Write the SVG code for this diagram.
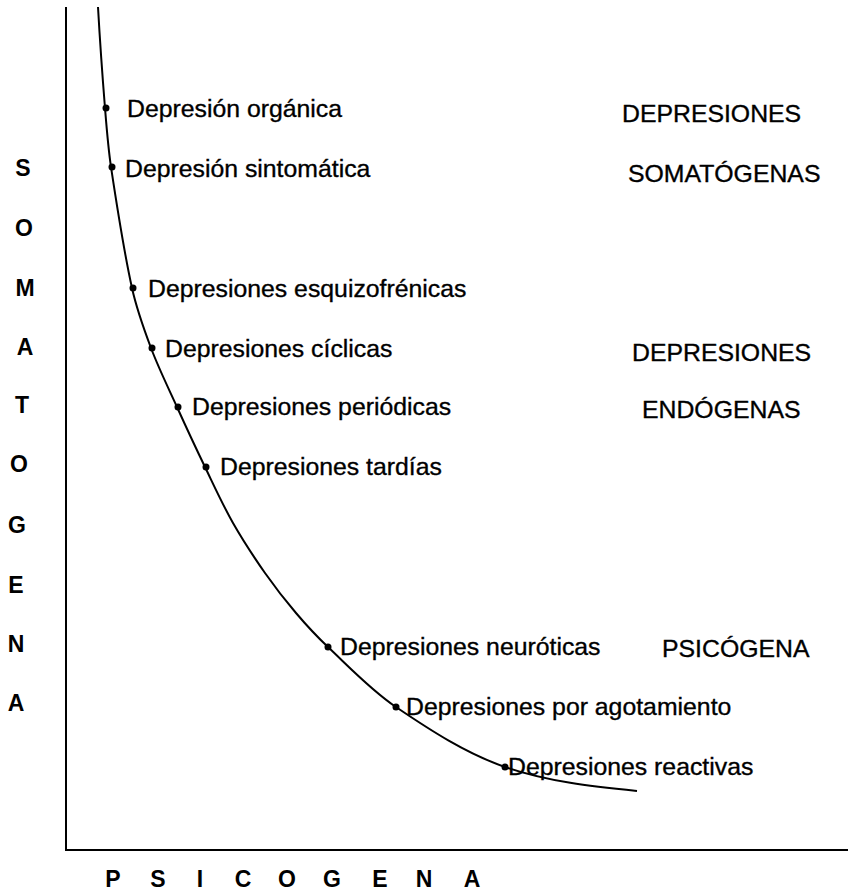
<svg xmlns="http://www.w3.org/2000/svg" width="848" height="895" viewBox="0 0 848 895">
<style>
.lbl{font-family:"Liberation Sans",Arial,sans-serif;font-size:24.8px;fill:#000;stroke:#000;stroke-width:0.35}
.ax{font-family:"Liberation Sans",Arial,sans-serif;font-size:23px;font-weight:bold;fill:#000;text-anchor:middle}
.line{fill:none;stroke:#000;stroke-width:2}
.dot{fill:#000}
</style>
<rect width="848" height="895" fill="#fff"/>
<g id="axes">
<line class="line" x1="66" y1="7" x2="66" y2="850"/>
<line class="line" x1="65" y1="850" x2="848" y2="850"/>
</g>
<g id="connectors">
<path class="line" d="M98,7 C99.9,40.6 102.3,74.4 105,108 C106.6,127.7 108.1,147.4 111,167 C117.1,207.4 123.2,248.1 132,288 C136.5,308.5 143.6,328.3 151,348 C158.6,368.1 168.1,387.4 177,407 C186.1,427.1 195.4,447.1 205,467 C214.1,485.8 222.7,504.8 233,523 C242.8,540.2 253.7,556.8 265,573 C274.7,586.8 285,600.1 296,613 C306.1,624.9 316.6,636.3 328,647 C350,667.7 371,690.1 396,707 C430.4,730.3 465.8,753.3 505,767 C547.2,781.7 592.7,786.5 637,791"/>
</g>
<g id="n-organica"><circle class="dot" cx="106" cy="108" r="3.5"/><text class="lbl" x="127" y="117">Depresión orgánica</text></g>
<g id="n-sintomatica"><circle class="dot" cx="112" cy="167" r="3.5"/><text class="lbl" x="125" y="177">Depresión sintomática</text></g>
<g id="n-esquizofrenicas"><circle class="dot" cx="133" cy="288" r="3.5"/><text class="lbl" x="148" y="297">Depresiones esquizofrénicas</text></g>
<g id="n-ciclicas"><circle class="dot" cx="152" cy="348" r="3.5"/><text class="lbl" x="165" y="357">Depresiones cíclicas</text></g>
<g id="n-periodicas"><circle class="dot" cx="178" cy="407" r="3.5"/><text class="lbl" x="192" y="415">Depresiones periódicas</text></g>
<g id="n-tardias"><circle class="dot" cx="206" cy="467" r="3.5"/><text class="lbl" x="220" y="475">Depresiones tardías</text></g>
<g id="n-neuroticas"><circle class="dot" cx="328" cy="647" r="3.5"/><text class="lbl" x="340" y="655">Depresiones neuróticas</text></g>
<g id="n-agotamiento"><circle class="dot" cx="396" cy="707" r="3.5"/><text class="lbl" x="406" y="715">Depresiones por agotamiento</text></g>
<g id="n-reactivas"><circle class="dot" cx="505" cy="767" r="3.5"/><text class="lbl" x="508" y="775">Depresiones reactivas</text></g>
<g id="g-somatogenas"><text class="lbl" x="622" y="122">DEPRESIONES</text><text class="lbl" x="628" y="182">SOMATÓGENAS</text></g>
<g id="g-endogenas"><text class="lbl" x="632" y="361">DEPRESIONES</text><text class="lbl" x="642" y="418">ENDÓGENAS</text></g>
<g id="g-psicogena"><text class="lbl" x="662" y="657">PSICÓGENA</text></g>
<g id="axis-y-label">
<text class="ax" x="23" y="176">S</text>
<text class="ax" x="24" y="236">O</text>
<text class="ax" x="25" y="296">M</text>
<text class="ax" x="25" y="355">A</text>
<text class="ax" x="22" y="413">T</text>
<text class="ax" x="19" y="472">O</text>
<text class="ax" x="17" y="533">G</text>
<text class="ax" x="16" y="593">E</text>
<text class="ax" x="16" y="652">N</text>
<text class="ax" x="16" y="711">A</text>
</g>
<g id="axis-x-label">
<text class="ax" x="113" y="887">P</text>
<text class="ax" x="158" y="887">S</text>
<text class="ax" x="200" y="887">I</text>
<text class="ax" x="243" y="887">C</text>
<text class="ax" x="287" y="887">O</text>
<text class="ax" x="332" y="887">G</text>
<text class="ax" x="380" y="887">E</text>
<text class="ax" x="424" y="887">N</text>
<text class="ax" x="472" y="887">A</text>
</g>
</svg>
